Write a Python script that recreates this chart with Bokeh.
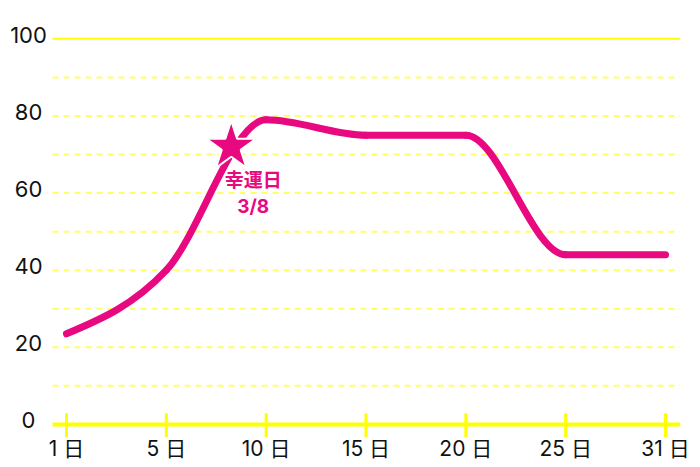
import numpy as np
from bokeh.plotting import figure
from bokeh.models import Range1d, FixedTicker, ColumnDataSource
from bokeh.core.properties import value
from bokeh.embed import file_html
from bokeh.resources import INLINE

# ---- data ----
day_labels = ["1 日", "5 日", "10 日", "15 日", "20 日", "25 日", "31 日"]
scores = [23.5, 40, 79, 75, 75, 44, 44]
y_ticks = [0, 20, 40, 60, 80, 100]
grid_dashed = [10, 20, 30, 40, 50, 60, 70, 80, 90]
lucky_pos = [1.65]          # position of 3/8 between "5 日" and "10 日"
lucky_val = [72]
lucky_text = ["幸運日\n3/8"]

PINK = "#e8087f"
YELLOW = "#ffff00"
FONT = "Inter, Noto Sans CJK JP"

xs = list(range(len(day_labels)))
X_START, X_END = -0.14, 6.15      # extent of the plotting area (grid lines)
X_LEFT = -0.661                   # room on the left for the value labels
Y_START, Y_TOP = -3.4, 109.95     # room for ticks below 0 and label above 100

p = figure(width=692, height=463, output_backend="svg", toolbar_location=None,
           x_range=Range1d(X_LEFT, X_END), y_range=Range1d(Y_START, Y_TOP),
           min_border_left=0, min_border_right=12, min_border_top=0, min_border_bottom=0)
p.outline_line_color = None
p.background_fill_color = "white"
p.border_fill_color = "white"
p.grid.visible = False
p.yaxis.visible = False

# x axis: labels only (line and ticks drawn at y=0 below)
xa = p.xaxis[0]
xa.ticker = FixedTicker(ticks=xs)
xa.major_label_overrides = {i: l for i, l in enumerate(day_labels)}
xa.axis_line_color = None
xa.major_tick_line_color = None
xa.minor_tick_line_color = None
xa.major_tick_in = 0
xa.major_tick_out = 0
xa.major_label_text_font = FONT
xa.major_label_text_font_size = "21px"
xa.major_label_text_color = "#111111"
xa.major_label_standoff = -2

# gridlines
n = len(grid_dashed)
p.segment(x0=[X_START] * n, y0=grid_dashed, x1=[X_END] * n, y1=grid_dashed,
          line_color=YELLOW, line_alpha=0.6, line_width=2, line_dash="6 5")
p.segment(x0=[X_START], y0=[100], x1=[X_END], y1=[100], line_color=YELLOW, line_width=2)
p.segment(x0=[X_START], y0=[0], x1=[X_END], y1=[0], line_color=YELLOW, line_width=4)
p.segment(x0=xs, y0=[Y_START] * len(xs), x1=xs, y1=[2.9] * len(xs),
          line_color=YELLOW, line_width=3)

# value labels
p.text(x=[X_START] * len(y_ticks), y=y_ticks, text=[str(v) for v in y_ticks],
       x_offset=-24, y_offset=-4, text_align="center", text_baseline="middle",
       text_font=value(FONT), text_font_size="22px", text_color="#111111")

# smooth (monotone) curve via bezier segments
x = np.array(xs, dtype=float)
y = np.array(scores, dtype=float)
h = np.diff(x)
s = np.diff(y) / h
m = np.zeros_like(y)
for i in range(1, len(y) - 1):
    if s[i - 1] * s[i] <= 0:
        m[i] = 0
    else:
        pm = (s[i - 1] * h[i] + s[i] * h[i - 1]) / (h[i - 1] + h[i])
        m[i] = 2 * min(abs(s[i - 1]), abs(s[i]), 0.5 * abs(pm)) * np.sign(s[i])
m[0] = (3 * s[0] - m[1]) / 2
m[-1] = (3 * s[-1] - m[-2]) / 2
src = ColumnDataSource(dict(
    x0=x[:-1], y0=y[:-1], x1=x[1:], y1=y[1:],
    cx0=x[:-1] + h / 3, cy0=y[:-1] + m[:-1] * h / 3,
    cx1=x[1:] - h / 3, cy1=y[1:] - m[1:] * h / 3))
p.bezier(x0="x0", y0="y0", x1="x1", y1="y1", cx0="cx0", cy0="cy0", cx1="cx1", cy1="cy1",
         source=src, line_color=PINK, line_width=7, line_cap="round")

# lucky star
p.scatter(x=lucky_pos, y=lucky_val, marker="star", size=52, fill_color=PINK,
          line_color="white", line_width=2)
p.text(x=lucky_pos, y=lucky_val, text=lucky_text, x_offset=22, y_offset=22,
       text_align="center", text_baseline="top", text_line_height=1.15,
       text_font=value(FONT), text_font_size="19px", text_color=PINK,
       text_font_style="bold")

open("out.html", "w").write(file_html(p, INLINE))
